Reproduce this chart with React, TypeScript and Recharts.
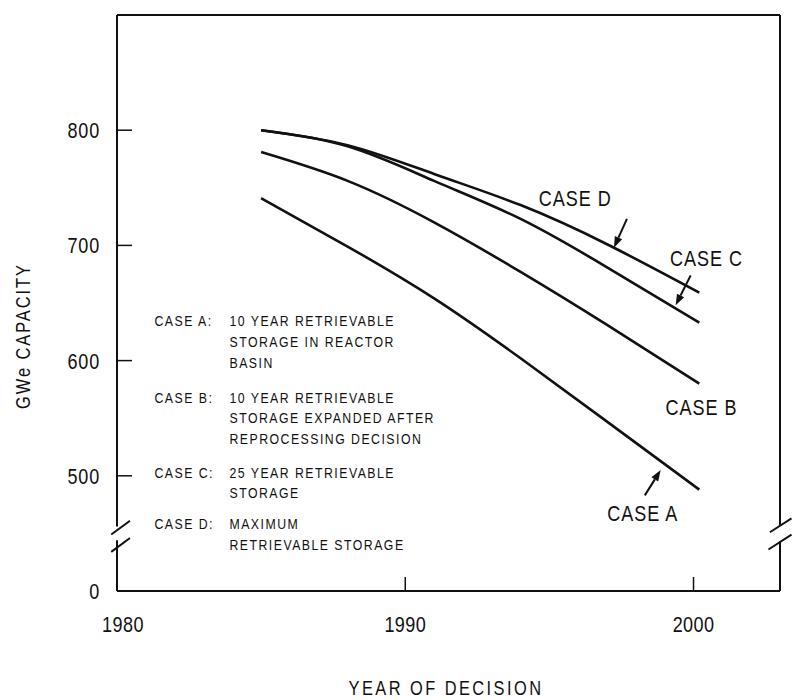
import React from 'react';
import { LineChart, Line, XAxis, YAxis, ReferenceLine, ReferenceDot } from 'recharts';

// values (GWe capacity vs year of decision)
const years = [1985, 1988, 1991, 1994, 1997, 2000.2];
const caseA = [741, 699, 654, 602, 547, 488];
const caseB = [781, 756, 720, 677, 631, 580];
const caseC = [800, 786, 756, 723, 681, 633];
const caseD = [800, 787, 762, 735, 701, 659];

const xTicks = [1980, 1990, 2000];
const yTicks = [400, 500, 600, 700, 800];

const legendLines = [
  ['CASE A:', '10 YEAR RETRIEVABLE'],
  ['', 'STORAGE IN REACTOR'],
  ['', 'BASIN'],
  ['CASE B:', '10 YEAR RETRIEVABLE'],
  ['', 'STORAGE EXPANDED AFTER'],
  ['', 'REPROCESSING DECISION'],
  ['CASE C:', '25 YEAR RETRIEVABLE'],
  ['', 'STORAGE'],
  ['CASE D:', 'MAXIMUM'],
  ['', 'RETRIEVABLE STORAGE'],
];
const legendOffsets = [0, 21, 42, 77, 97, 118, 152, 172, 203, 224];

const caseLabels = [
  { text: 'CASE D', x: 1995.9, y: 741 },
  { text: 'CASE C', x: 2000.45, y: 689 },
  { text: 'CASE B', x: 2000.28, y: 560 },
  { text: 'CASE A', x: 1998.24, y: 468 },
];

const arrows = [
  { from: { x: 1997.69, y: 723 }, to: { x: 1997.24, y: 698 } },
  { from: { x: 1999.9, y: 674 }, to: { x: 1999.38, y: 648 } },
  { from: { x: 1998.31, y: 483 }, to: { x: 1998.86, y: 505 } },
];

// plot frame with axis breaks
const frame = [
  [{ x: 1980, y: 900 }, { x: 2003, y: 900 }],
  [{ x: 1980, y: 400 }, { x: 2003, y: 400 }],
  [{ x: 1980, y: 900 }, { x: 1980, y: 456 }],
  [{ x: 1980, y: 444 }, { x: 1980, y: 400 }],
  [{ x: 2003, y: 900 }, { x: 2003, y: 457 }],
  [{ x: 2003, y: 443 }, { x: 2003, y: 400 }],
  [{ x: 1979.8, y: 449 }, { x: 1980.45, y: 461 }],
  [{ x: 1979.8, y: 434 }, { x: 1980.45, y: 446 }],
  [{ x: 2002.65, y: 451 }, { x: 2003.4, y: 463 }],
  [{ x: 2002.6, y: 436 }, { x: 2003.4, y: 449 }],
];

const data = years.map((yr, i) => ({ year: yr, a: caseA[i], b: caseB[i], c: caseC[i], d: caseD[i] }));

const FONT = "'Liberation Sans', Arial, sans-serif";
const INK = '#111';
const SQUEEZE = 0.82;

// narrow lettering, like the typewriter-style labels of the original
const NText = ({ x, y, size, spacing = 0, anchor = 'start', rotate = 0, children }: any) => (
  <text
    x={0}
    y={0}
    transform={`translate(${x},${y}) rotate(${rotate}) scale(${SQUEEZE},1)`}
    textAnchor={anchor}
    fontFamily={FONT}
    fontSize={size}
    letterSpacing={spacing}
    fill={INK}
  >
    {children}
  </text>
);

const XTick = (props: any) => {
  const { x, y, payload } = props;
  const v = payload.value;
  return (
    <g>
      {v !== 1980 && <line x1={x} x2={x} y1={y} y2={y - 14} stroke={INK} strokeWidth={1.5} />}
      <NText x={v === 1980 ? x + 6 : x} y={y + 41} size={22} spacing={0.5} anchor="middle">
        {v}
      </NText>
    </g>
  );
};

const YTick = (props: any) => {
  const { x, y, payload } = props;
  const v = payload.value;
  return (
    <g>
      {v !== 400 && <line x1={x} x2={x + 15} y1={y} y2={y} stroke={INK} strokeWidth={1.5} />}
      <NText x={x - 17} y={y + 8} size={22} spacing={1} anchor="end">
        {v === 400 ? '0' : v}
      </NText>
    </g>
  );
};

const Arrow = (props: any) => {
  const { x1, y1, x2, y2 } = props;
  const ang = Math.atan2(y2 - y1, x2 - x1);
  const len = 11;
  const w = 4;
  const bx = x2 - len * Math.cos(ang);
  const by = y2 - len * Math.sin(ang);
  const px = -Math.sin(ang) * w;
  const py = Math.cos(ang) * w;
  return (
    <g>
      <line x1={x1} y1={y1} x2={bx} y2={by} stroke={INK} strokeWidth={2} />
      <polygon points={`${x2},${y2} ${bx + px},${by + py} ${bx - px},${by - py}`} fill={INK} />
    </g>
  );
};

const App: React.FC = () => (
  <div style={{ position: 'absolute', left: 0, top: 0, background: '#fff' }}>
    <LineChart width={792} height={700} data={data} margin={{ top: 15, right: 12, left: 57, bottom: 79 }}>
      <XAxis
        type="number"
        dataKey="year"
        domain={[1980, 2003]}
        ticks={xTicks}
        allowDataOverflow
        axisLine={false}
        tickLine={false}
        tickSize={0}
        tickMargin={0}
        height={30}
        tick={<XTick />}
        interval={0}
      />
      <YAxis
        type="number"
        domain={[400, 900]}
        ticks={yTicks}
        allowDataOverflow
        axisLine={false}
        tickLine={false}
        tickSize={0}
        tickMargin={0}
        width={60}
        tick={<YTick />}
        interval={0}
      />
      {frame.map((seg, i) => (
        <ReferenceLine key={'f' + i} segment={seg} stroke={INK} strokeWidth={2} ifOverflow="visible" />
      ))}
      <Line type="natural" dataKey="a" stroke={INK} strokeWidth={2.6} dot={false} isAnimationActive={false} />
      <Line type="natural" dataKey="b" stroke={INK} strokeWidth={2.6} dot={false} isAnimationActive={false} />
      <Line type="natural" dataKey="c" stroke={INK} strokeWidth={2.6} dot={false} isAnimationActive={false} />
      <Line type="natural" dataKey="d" stroke={INK} strokeWidth={2.6} dot={false} isAnimationActive={false} />
      {arrows.map((a, i) => (
        <ReferenceLine key={'a' + i} segment={[a.from, a.to]} ifOverflow="visible" shape={<Arrow />} />
      ))}
      {caseLabels.map((l) => (
        <ReferenceDot
          key={l.text}
          x={l.x}
          y={l.y}
          r={0}
          ifOverflow="visible"
          shape={(p: any) => (
            <NText x={p.cx} y={p.cy + 8} size={22} spacing={1.2} anchor="middle">
              {l.text}
            </NText>
          )}
        />
      ))}
      <ReferenceDot
        x={1981.3}
        y={635}
        r={0}
        ifOverflow="visible"
        shape={(p: any) => (
          <g>
            {legendLines.map((ln, i) => (
              <g key={i}>
                {ln[0] && (
                  <NText x={p.cx} y={p.cy + legendOffsets[i] + 5.5} size={15} spacing={1.8}>
                    {ln[0]}
                  </NText>
                )}
                <NText x={p.cx + 75} y={p.cy + legendOffsets[i] + 5.5} size={15} spacing={1.8}>
                  {ln[1]}
                </NText>
              </g>
            ))}
          </g>
        )}
      />
      <NText x={446} y={695} size={20} spacing={3} anchor="middle">
        YEAR OF DECISION
      </NText>
      <NText x={30} y={336} size={20} spacing={2.4} anchor="middle" rotate={-90}>
        GWe CAPACITY
      </NText>
    </LineChart>
  </div>
);

export default App;
